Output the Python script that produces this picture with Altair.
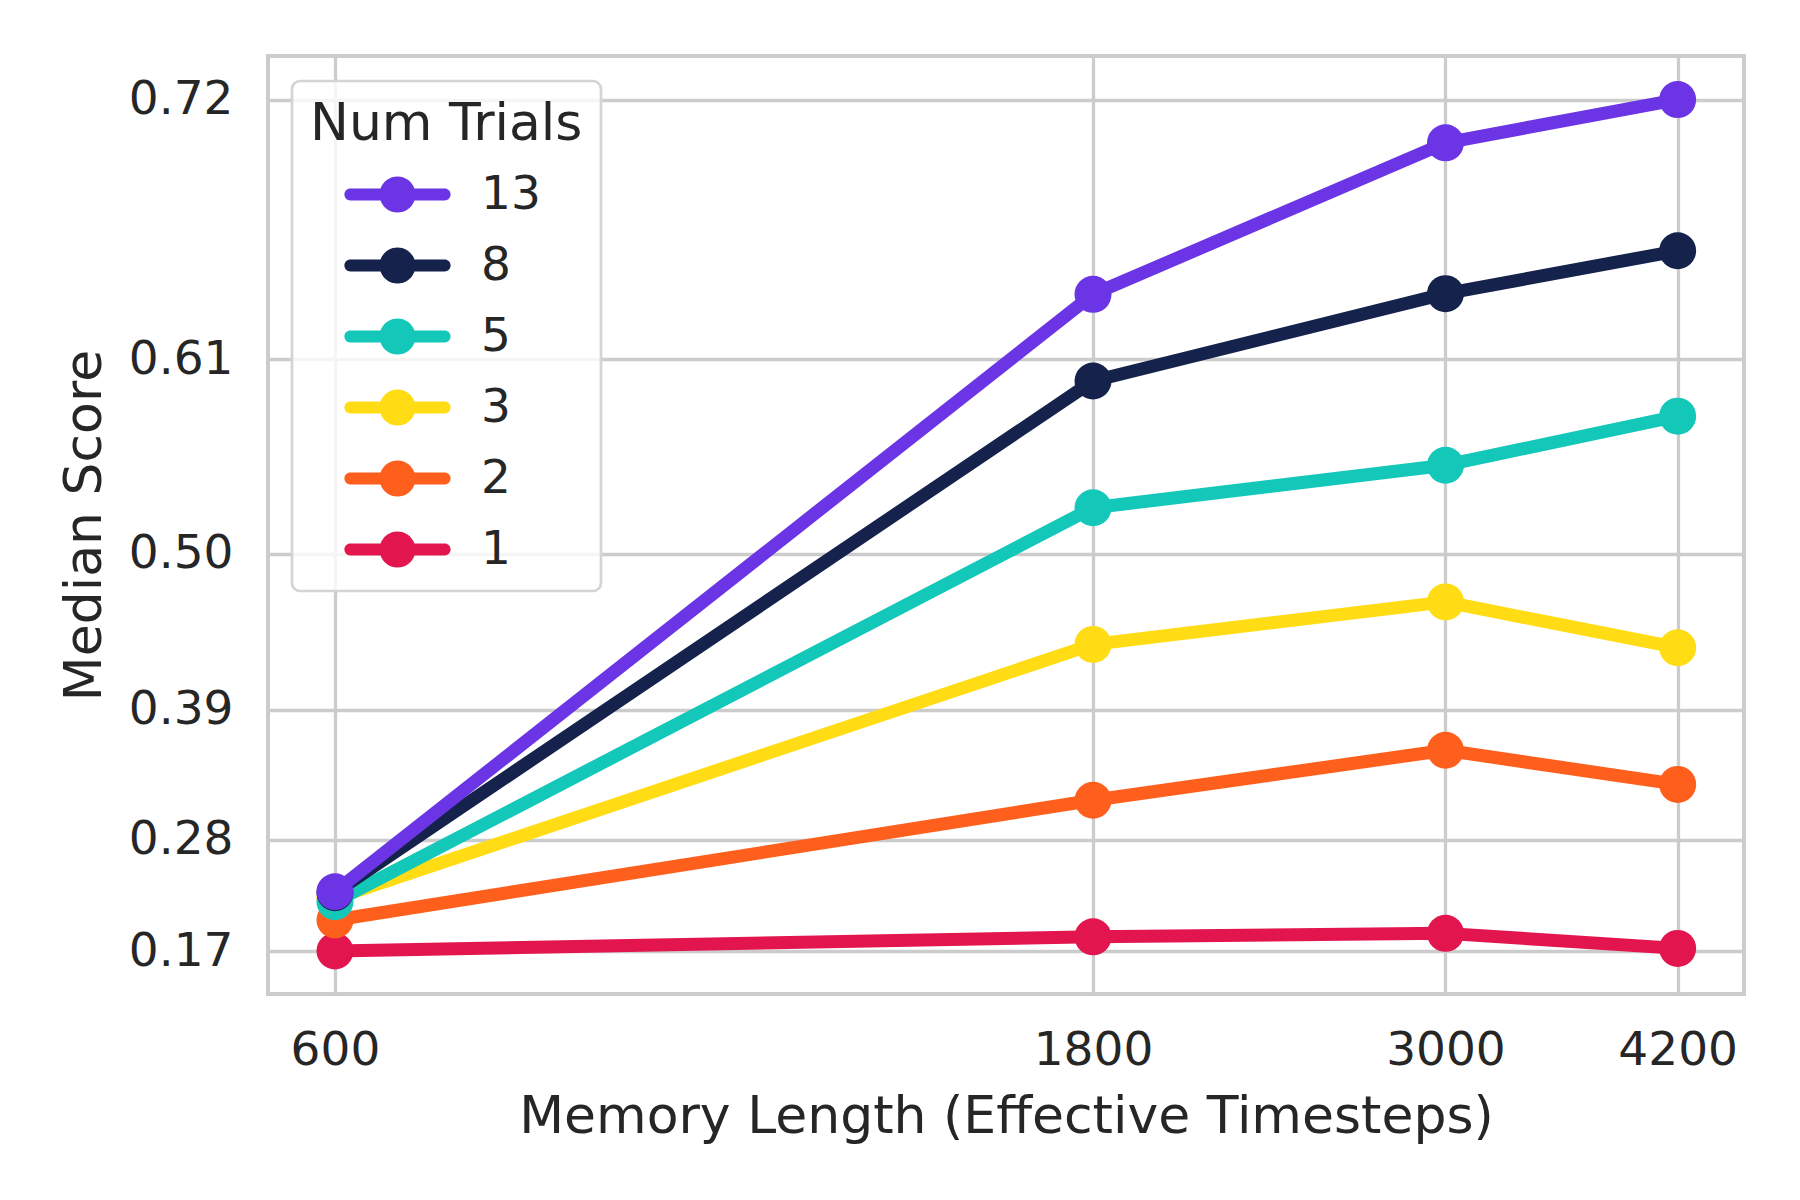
import math
import altair as alt
import pandas as pd

# ---- data ----
memory_length = [600, 1800, 3000, 4200]
score_1 = [0.1700, 0.1849, 0.1885, 0.1728]
score_2 = [0.2022, 0.3153, 0.3576, 0.3290]
score_3 = [0.2240, 0.4388, 0.4684, 0.4364]
score_5 = [0.2206, 0.5286, 0.5535, 0.5806]
score_8 = [0.2296, 0.5990, 0.6413, 0.6604]
score_13 = [0.2305, 0.6410, 0.7041, 0.7200]

series = [("1", score_1), ("2", score_2), ("3", score_3),
          ("5", score_5), ("8", score_8), ("13", score_13)]
legend_order = ["13", "8", "5", "3", "2", "1"]
legend_colors = ["#6B35E6", "#15224B", "#13C8B9", "#FFDC14", "#FF5F1C", "#E2154E"]
color_of = dict(zip(legend_order, legend_colors))

y_ticks = [0.17, 0.28, 0.39, 0.50, 0.61, 0.72]
x_ticks = [600, 1800, 3000, 4200]

rows = []
for name, vals in series:
    for m, s in zip(memory_length, vals):
        rows.append({"trials": name, "memory": m, "score": s})
df = pd.DataFrame(rows)

# y axis is drawn on a -log(1 - score) scale
y_tick_t = [-math.log(1 - v) for v in y_ticks]

TEXT = "#262626"
FONT = "DejaVu Sans"

# legend symbol: a line with a circle in the middle
h = 0.33
x0 = math.sqrt(1 - h * h)
L = 2.62
sym = (f"M{-L},{-h} L{-x0:.4f},{-h} A1,1 0 0 1 {x0:.4f},{-h} L{L},{-h} "
       f"A{h},{h} 0 0 1 {L},{h} L{x0:.4f},{h} A1,1 0 0 1 {-x0:.4f},{h} "
       f"L{-L},{h} A{h},{h} 0 0 1 {-L},{-h} Z")

color_scale = alt.Scale(domain=legend_order, range=legend_colors)
x_enc = alt.X("memory:Q",
              scale=alt.Scale(type="log", domain=[544.5, 4624], nice=False),
              axis=alt.Axis(values=x_ticks, format="d",
                            title="Memory Length (Effective Timesteps)",
                            labelPadding=33, titleY=138,
                            titleBaseline="alphabetic"))
y_enc = alt.Y("t:Q",
              scale=alt.Scale(domain=[0.13149, 1.32857], nice=False, zero=False),
              axis=alt.Axis(values=y_tick_t,
                            labelExpr="format(1 - exp(-datum.value), '.2f')",
                            title="Median Score", labelPadding=35,
                            titleX=-168, titleBaseline="alphabetic"))

legend = alt.Legend(title="Num Trials", orient="none", legendX=24, legendY=25,
                    direction="vertical", symbolType=sym, symbolSize=1296,
                    symbolStrokeWidth=0, symbolOpacity=1,
                    symbolOffset=64, labelOffset=60, rowPadding=23,
                    titlePadding=20, padding=18, cornerRadius=8,
                    strokeColor="#d4d4d4",
                    fillColor="rgba(255,255,255,0.8)",
                    labelFont=FONT, labelFontSize=47, labelColor=TEXT,
                    titleFont=FONT, titleFontSize=52, titleFontWeight="normal",
                    titleColor=TEXT, titleLimit=800, labelLimit=400)

base = alt.Chart(df).transform_calculate(t="-log(1 - datum.score)")

layers = []
for name, _ in series:
    b = base.transform_filter(alt.datum.trials == name)
    line = b.mark_line(strokeWidth=13, strokeCap="round", strokeJoin="round").encode(
        x=x_enc, y=y_enc, color=alt.value(color_of[name]))
    pts = b.mark_circle(size=1369, opacity=1).encode(
        x=x_enc, y=y_enc,
        color=alt.Color("trials:N", scale=color_scale, legend=legend))
    layers += [line, pts]

chart = alt.layer(*layers).properties(
    width=1476, height=938,
    autosize=alt.AutoSizeParams(type="none"),
    padding={"left": 260, "top": 48, "right": 40, "bottom": 190},
).configure(font=FONT).configure_view(
    stroke="#cccccc", strokeWidth=4, fill="white"
).configure_axis(
    grid=True, gridColor="#cccccc", gridWidth=3.3, domain=False,
    ticks=False, tickSize=0,
    labelFont=FONT, labelFontSize=47, labelColor=TEXT,
    titleFont=FONT, titleFontSize=52, titleFontWeight="normal", titleColor=TEXT,
).configure_legend(strokeWidth=2.7)

chart.save("out.html", embed_options={"renderer": "svg", "actions": False})
